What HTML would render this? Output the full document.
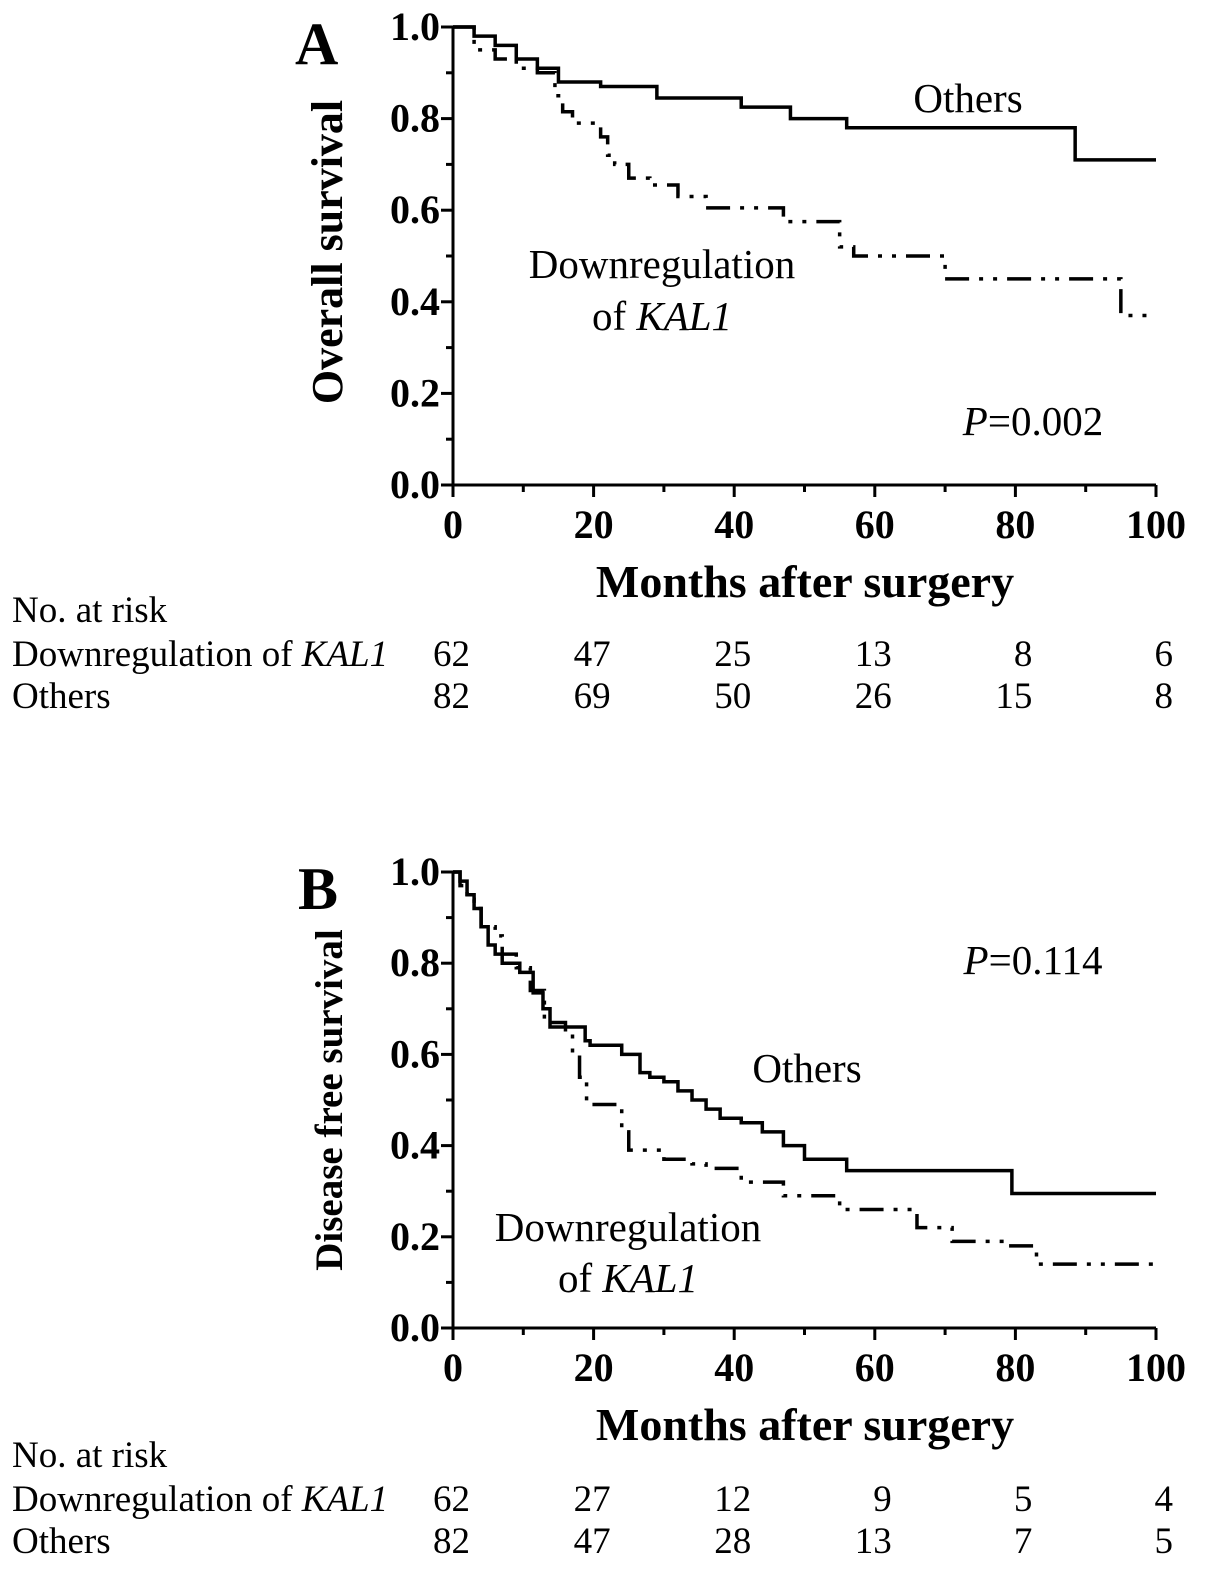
<!DOCTYPE html>
<html><head><meta charset="utf-8"><style>
html,body{margin:0;padding:0;background:#fff;}
svg{display:block;font-family:"Liberation Serif",serif;}
</style></head><body>
<svg id="fig" width="1205" height="1581" viewBox="0 0 1205 1581"></svg>
<script>
const yTicks = [0.0,0.2,0.4,0.6,0.8,1.0];
const yTickLabels = ["0.0","0.2","0.4","0.6","0.8","1.0"];
const xTicks = [0,20,40,60,80,100];
const xTickLabels = ["0","20","40","60","80","100"];
// Panel A step data [month, survival]
const aOthersT = [0,3,6,9,12,15,21,29,41,48,56,88.5,100];
const aOthersS = [1.0,0.98,0.96,0.93,0.91,0.88,0.87,0.845,0.825,0.80,0.78,0.71,0.71];
const aDownT = [0,3,6,9,12,14.5,15.6,17,21,22,23,25,28,32,36,47,55,57,70,95,100];
const aDownS = [1.0,0.95,0.93,0.91,0.90,0.85,0.815,0.79,0.76,0.72,0.70,0.67,0.655,0.63,0.605,0.575,0.52,0.50,0.45,0.37,0.37];
// Panel B step data
const bOthersT = [0,1,2,3,4,5,6,7,9.5,11.4,12.8,13.8,18.8,19.5,24,26.6,28,30,32,34,36,38,41,44,47,50,56,79.5,100];
const bOthersS = [1.0,0.98,0.95,0.92,0.88,0.84,0.82,0.80,0.78,0.735,0.70,0.66,0.63,0.62,0.60,0.56,0.55,0.54,0.52,0.50,0.48,0.46,0.45,0.43,0.40,0.37,0.345,0.295,0.295];
const bDownT = [0,1,2,3,4,6,7,9,11,13,16,17,18,19,24,25,30,34,36,41,47,55,66,71,79,83,100];
const bDownS = [1.0,0.97,0.94,0.92,0.88,0.86,0.82,0.79,0.74,0.67,0.65,0.60,0.55,0.49,0.43,0.39,0.37,0.36,0.35,0.32,0.29,0.26,0.22,0.19,0.18,0.14,0.14];
const riskMonths = [0,20,40,60,80,100];
const aRiskDown = [62,47,25,13,8,6];
const aRiskOthers = [82,69,50,26,15,8];
const bRiskDown = [62,27,12,9,5,4];
const bRiskOthers = [82,47,28,13,7,5];

const NS="http://www.w3.org/2000/svg";
const svg=document.getElementById('fig');
function mk(tag,attrs,parent,text){const e=document.createElementNS(NS,tag);for(const k in attrs)e.setAttribute(k,attrs[k]);if(text!==undefined)e.textContent=text;(parent||svg).appendChild(e);return e;}

function panel(o){
  const x0=453,x1=1156,top=o.top,bot=o.bot;
  const sx=m=>x0+(m/100)*(x1-x0);
  const sy=v=>bot-v*(bot-top);
  const g=mk('g',{});
  
  
  const ax=mk('path',{d:`M${x0},${top} V${bot} H${x1}`,stroke:'#000','stroke-width':3,fill:'none'},g);
  
  
  for(let i=0;i<yTicks.length;i++){
    const y=sy(yTicks[i]);
    mk('line',{x1:x0-12,x2:x0,y1:y,y2:y,stroke:'#000','stroke-width':3},g);
    if(i<yTicks.length-1){const ym=sy(yTicks[i]+0.1);mk('line',{x1:x0-7,x2:x0,y1:ym,y2:ym,stroke:'#000','stroke-width':3},g);}
    const t=mk('text',{x:x0-13,y:y+13,'text-anchor':'end','font-size':40,'font-weight':'bold'},g,yTickLabels[i]);
    
    
  }
  for(let i=0;i<xTicks.length;i++){
    const x=sx(xTicks[i]);
    mk('line',{x1:x,x2:x,y1:bot,y2:bot+12,stroke:'#000','stroke-width':3},g);
    if(i<xTicks.length-1){const xm=sx(xTicks[i]+10);mk('line',{x1:xm,x2:xm,y1:bot,y2:bot+7,stroke:'#000','stroke-width':3},g);}
    const t=mk('text',{x:x,y:bot+53,'text-anchor':'middle','font-size':40,'font-weight':'bold'},g,xTickLabels[i]);
    
    
  }
  function step(T,S,dash,name){
    let d=`M${sx(T[0])},${sy(S[0])}`;
    for(let i=1;i<T.length;i++){d+=` H${sx(T[i])} V${sy(S[i])}`;}
    const p=mk('path',{d,stroke:'#000','stroke-width':3.5,fill:'none','stroke-dasharray':dash||'none'},g);
    
    
  }
  step(o.othT,o.othS,null,o.name+'-others-curve');
  step(o.dnT,o.dnS,'24 10 4 10 4 10',o.name+'-downregulation-curve');
  const yt=mk('text',{x:0,y:0,transform:`translate(${o.ytx},${o.ytc}) rotate(-90)`,'text-anchor':'middle','font-size':o.ytsize,'font-weight':'bold'},g,o.ytitle);
  
  
  const xt=mk('text',{x:805,y:bot+112,'text-anchor':'middle','font-size':46,'font-weight':'bold'},g,'Months after surgery');
  
  
  const L=mk('text',{x:o.letterX,y:top+37,'font-size':60,'font-weight':'bold'},g,o.letter);
  
  
  for(const a of o.ann){
    const t=mk('text',{x:a[0],y:a[1],'text-anchor':'middle','font-size':41},g);
    t.innerHTML=a[2];
    
    
  }
  const rt=o.riskY;
  const h=mk('text',{x:12,y:rt,'font-size':37},g,'No. at risk');
  
  
  const r1=mk('text',{x:12,y:rt+44,'font-size':37},g);
  r1.innerHTML='Downregulation of <tspan font-style="italic">KAL1</tspan>';
  
  
  const r2=mk('text',{x:12,y:rt+86,'font-size':37},g,'Others');
  
  
  for(let i=0;i<riskMonths.length;i++){
    const x=sx(riskMonths[i])+17;
    const a=mk('text',{x,y:rt+44,'text-anchor':'end','font-size':37},g,o.rDown[i]);
    
    
    const b=mk('text',{x,y:rt+86,'text-anchor':'end','font-size':37},g,o.rOth[i]);
    
    
  }
}
panel({name:'panel-a',top:27,bot:485,ytx:342,ytc:252,ytsize:44,ytitle:'Overall survival',letter:'A',letterX:295,
  othT:aOthersT,othS:aOthersS,dnT:aDownT,dnS:aDownS,riskY:622,rDown:aRiskDown,rOth:aRiskOthers,
  ann:[[968,112,'Others','others-label'],[662,278,'Downregulation','downregulation-label'],[662,330,'of  <tspan font-style="italic">KAL1</tspan>','downregulation-label-2'],[1033,435,'<tspan font-style="italic">P</tspan>=0.002','p-value']]});
panel({name:'panel-b',top:872,bot:1328,ytx:342,ytc:1100,ytsize:39,ytitle:'Disease free survival',letter:'B',letterX:298,
  othT:bOthersT,othS:bOthersS,dnT:bDownT,dnS:bDownS,riskY:1467,rDown:bRiskDown,rOth:bRiskOthers,
  ann:[[807,1082,'Others','others-label'],[628,1241,'Downregulation','downregulation-label'],[628,1292,'of  <tspan font-style="italic">KAL1</tspan>','downregulation-label-2'],[1033,974,'<tspan font-style="italic">P</tspan>=0.114','p-value']]});
</script>
</body></html>
